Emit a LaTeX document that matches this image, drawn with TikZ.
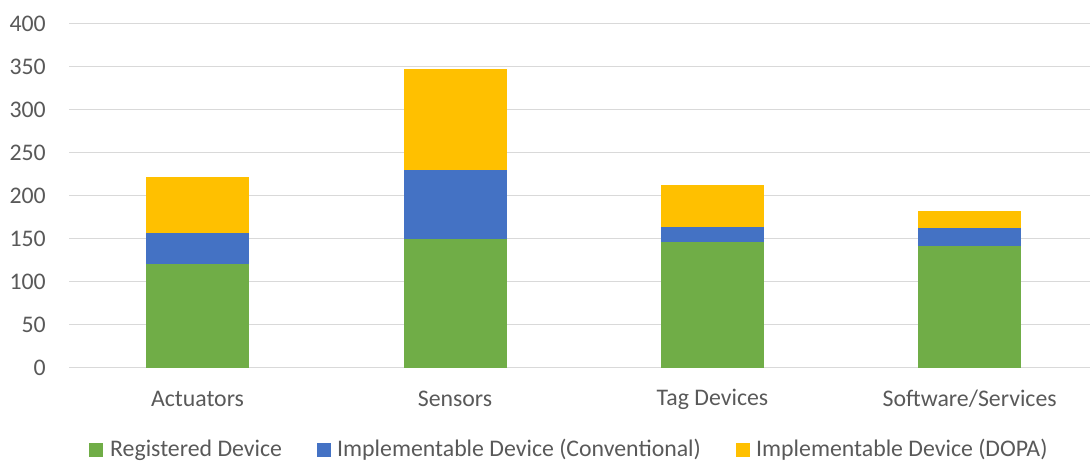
\documentclass[tikz,border=0pt]{standalone}
\usepackage{fontspec}
\setmainfont{Carlito}
\definecolor{regcol}{HTML}{70AD47}
\definecolor{convcol}{HTML}{4472C4}
\definecolor{dopacol}{HTML}{FFC000}
\definecolor{gridcol}{HTML}{D9D9D9}
\definecolor{txtcol}{HTML}{595959}
\begin{document}
\begin{tikzpicture}[x=1pt,y=1pt,
  gridline/.style={draw=gridcol,line width=1.3pt},
  chartfont/.style={text=txtcol,font=\fontsize{23.8}{28}\selectfont},
  ticklabel/.style={chartfont,anchor=east,inner sep=0pt},
  catlabel/.style={chartfont,anchor=center,inner sep=0pt},
  legtext/.style={chartfont,anchor=west,inner sep=0pt},
  legkey/.style={minimum size=14pt,inner sep=0pt,outer sep=0pt}]
\useasboundingbox (0,0) rectangle (1090,461);
% value axis: y = 93.3 + 0.86 * value
\foreach \v [count=\i] in {0,50,...,400}{
  \draw[gridline] (69,{93.3+0.86*\v}) -- (1090,{93.3+0.86*\v});
  \node[ticklabel] (tick\i) at (46,{93.3+0.86*\v}) {\v};
}
% stacked bars: registered / conventional / DOPA
\foreach \cx/\a/\b/\c in {197.5/120/37/65, 455/150/80/117, 712.5/146/18/48, 969.7/142/20/20}{
  \fill[regcol]  ({\cx-51.5},93.3) rectangle ({\cx+51.5},{93.3+0.86*\a});
  \fill[convcol] ({\cx-51.5},{93.3+0.86*\a}) rectangle ({\cx+51.5},{93.3+0.86*(\a+\b)});
  \fill[dopacol] ({\cx-51.5},{93.3+0.86*(\a+\b)}) rectangle ({\cx+51.5},{93.3+0.86*(\a+\b+\c)});
}
% category labels
\node[catlabel] (cat1) at (197.5,62) {Actuators};
\node[catlabel] (cat2) at (455,62) {Sensors};
\node[catlabel] (cat3) at (712.5,62) {Tag Devices};
\node[catlabel] (cat4) at (969.7,62) {Software/Services};
% legend
\node[legkey,fill=regcol] (key1) at (96,11) {};
\node[legtext] (leg1) at (110,11) {Registered Device};
\node[legkey,fill=convcol] (key2) at (324.3,11) {};
\node[legtext] (leg2) at (337,11) {Implementable Device (Conventional)};
\node[legkey,fill=dopacol] (key3) at (742.7,11) {};
\node[legtext] (leg3) at (756,11) {Implementable Device (DOPA)};
\end{tikzpicture}
\end{document}
